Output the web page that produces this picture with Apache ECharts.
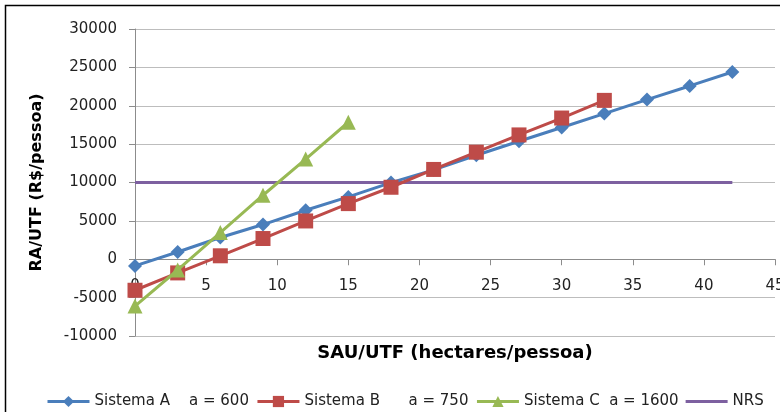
<!DOCTYPE html>
<html><head><meta charset="utf-8">
<script src="https://cdn.jsdelivr.net/npm/echarts@6/dist/echarts.min.js"></script>
<style>html,body{margin:0;padding:0;background:#fff}#c{width:780px;height:412px}</style>
</head><body><div id="c"></div>
<script>
const xA = [0,3,6,9,12,15,18,21,24,27,30,33,36,39,42];
const yA = [-870,950,2830,4520,6380,8120,9990,11650,13550,15370,17160,18980,20800,22580,24400];
const xB = [0,3,6,9,12,15,18,21,24,27,30,33];
const yB = [-4040,-1780,450,2700,4990,7250,9380,11700,13950,16200,18400,20700];
const xC = [0,3,6,9,12,15];
const yC = [-6100,-1400,3480,8340,13050,17850];
const xNRS = [0,42];
const yNRS = [10000,10000];
const names = ['Sistema A    a = 600','Sistema B      a = 750','Sistema C  a = 1600','NRS'];
const xTitle = 'SAU/UTF (hectares/pessoa)';
const yTitle = 'RA/UTF (R$/pessoa)';
const yMin = -10000, yMax = 30000;
const pairs = (xs, ys) => xs.map((x, i) => [x, ys[i]]);
const FONT = 'DejaVu Sans';
const gridTop = 29, gridBottom = 76, H = 412;
// move the x axis up to the y = 0 level (Excel "axis crosses at 0")
const plotH = H - gridTop - gridBottom;
const zeroOffset = -plotH * (0 - yMin) / (yMax - yMin);
const chart = echarts.init(document.getElementById('c'));
chart.setOption({
  animation: false,
  textStyle: {fontFamily: FONT},
  grid: {left: 135, right: 5, top: gridTop, bottom: gridBottom, containLabel: false, outerBoundsMode: 'none'},
  graphic: [{type: 'rect', shape: {x: 5.5, y: 5.5, width: 800, height: 420}, style: {fill: 'none', stroke: '#000', lineWidth: 1.5}, silent: true}],
  xAxis: {
    type: 'value', min: 0, max: 45, interval: 5, offset: zeroOffset,
    name: xTitle, nameLocation: 'middle', nameGap: 85,
    nameTextStyle: {fontFamily: FONT, fontWeight: 'bold', fontSize: 18, color: '#000'},
    axisLine: {onZero: false, lineStyle: {color: '#8c8c8c', width: 1}},
    axisTick: {show: true, length: 6, lineStyle: {color: '#8c8c8c'}},
    axisLabel: {fontFamily: FONT, fontSize: 15, color: '#222', margin: 19},
    splitLine: {show: false}
  },
  yAxis: {
    type: 'value', min: yMin, max: yMax, interval: 5000,
    name: yTitle, nameLocation: 'middle', nameGap: 90, nameRotate: 90,
    nameTextStyle: {fontFamily: FONT, fontWeight: 'bold', fontSize: 16, color: '#000'},
    axisLine: {show: true, lineStyle: {color: '#8c8c8c', width: 1}},
    axisTick: {show: true, length: 6, lineStyle: {color: '#8c8c8c'}},
    axisLabel: {fontFamily: FONT, fontSize: 15, color: '#222', margin: 18, formatter: v => String(v)},
    splitLine: {show: true, lineStyle: {color: '#bdbdbd', width: 1}}
  },
  legend: {
    top: 389, left: 41, itemWidth: 42, itemHeight: 14, itemGap: 7,
    textStyle: {fontFamily: FONT, fontSize: 15, color: '#222'},
    lineStyle: {width: 3},
    data: [
      {name: names[0]}, {name: names[1]}, {name: names[2]},
      {name: names[3], icon: 'path://M0,0 L40,0 L40,3 L0,3 Z'}
    ]
  },
  series: [
    {name: names[0], type: 'line', data: pairs(xA, yA), symbol: 'diamond', symbolSize: 14,
     lineStyle: {color: '#4A7EBB', width: 3}, itemStyle: {color: '#4A7EBB'}, z: 3},
    {name: names[1], type: 'line', data: pairs(xB, yB), symbol: 'rect', symbolSize: 15,
     lineStyle: {color: '#BE4B48', width: 3}, itemStyle: {color: '#BE4B48'}, z: 4},
    {name: names[2], type: 'line', data: pairs(xC, yC), symbol: 'triangle', symbolSize: 15,
     lineStyle: {color: '#98B954', width: 3}, itemStyle: {color: '#98B954'}, z: 5},
    {name: names[3], type: 'line', data: pairs(xNRS, yNRS), symbol: 'none', showSymbol: false,
     lineStyle: {color: '#7D60A0', width: 3}, itemStyle: {color: '#7D60A0'}, z: 2}
  ]
});
</script></body></html>
